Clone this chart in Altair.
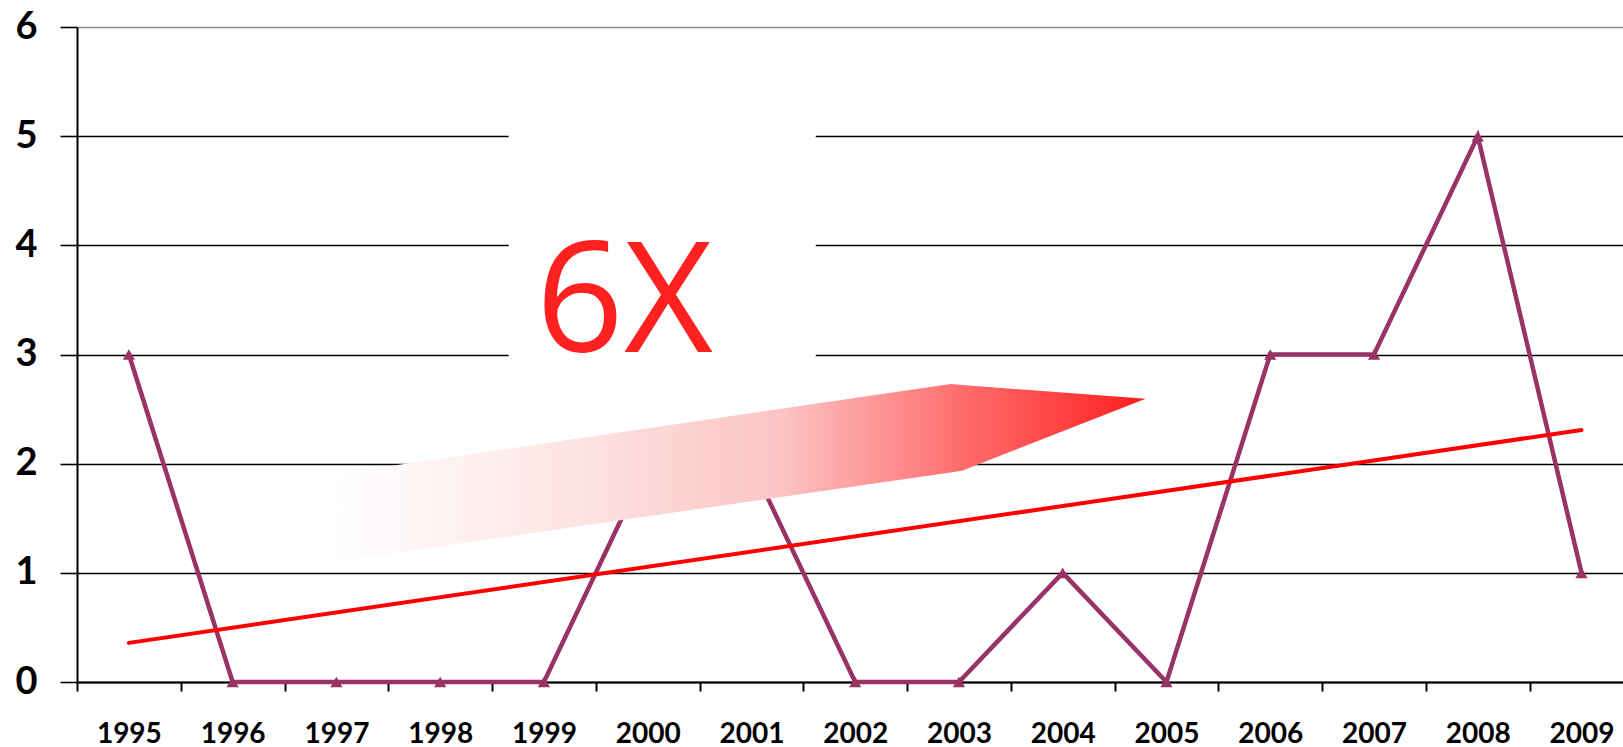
import altair as alt
import pandas as pd

# ---- data ----
years = [1995, 1996, 1997, 1998, 1999, 2000, 2001, 2002, 2003, 2004, 2005, 2006, 2007, 2008, 2009]
counts = [3, 0, 0, 0, 0, 2, 2, 0, 0, 1, 0, 3, 3, 5, 1]

# annotation: gradient arrow outline (x in year-index units, y in value units)
arrow_x = [1.96, 7.92, 8.03, 9.80]
arrow_top = [1.90, 2.73, 2.72, 2.595]
arrow_bottom = [1.10, 1.92, 1.935, 2.595]

# annotation: white box behind the "6X" label
box_x = [3.66, 6.62]
box_y = [2.75, 5.45]

# annotation text
note_text = ["6X"]
note_x = [4.775]
note_y = [3.02]

y_ticks = [0, 1, 2, 3, 4, 5, 6]

# ---- frames ----
df = pd.DataFrame({"year": years, "count": counts})
arrow_df = pd.DataFrame({"ax": arrow_x, "top": arrow_top, "bottom": arrow_bottom})
box_df = pd.DataFrame({"bx": [box_x[0]], "bx2": [box_x[1]], "by": [box_y[0]], "by2": [box_y[1]]})
note_df = pd.DataFrame({"nx": note_x, "ny": note_y, "t": note_text})

n = len(years)
x_values = sorted([k - 0.5 for k in range(n)] + list(range(n)))
x_scale = alt.Scale(domain=[-0.5, n - 0.6], nice=False, zero=False)
y_scale = alt.Scale(domain=[0, 6], nice=False)

x_axis = alt.Axis(
    values=x_values,
    labelExpr=f"datum.value % 1 === 0 ? '' + ({years[0]} + datum.value) : ''",
    grid=False,
    domainColor="black", domainWidth=2,
    tickColor="black", tickWidth=2, tickSize=9,
    tickOpacity={"condition": {"test": "datum.value % 1 !== 0", "value": 1}, "value": 0},
    labelFont="Lato", labelFontWeight="bold", labelFontSize=28, labelColor="black",
    labelPadding=29, labelOverlap=False, labelFlush=False, title=None,
)
y_axis = alt.Axis(
    values=y_ticks, grid=True,
    gridColor={"condition": {"test": "datum.value === 6", "value": "#8c8c8c"}, "value": "black"},
    gridWidth=1.6,
    domainColor="black", domainWidth=2,
    tickColor="black", tickWidth=1.6, tickSize=17,
    labelFont="Lato", labelFontWeight="bold", labelFontSize=38, labelColor="black",
    labelPadding=23, title=None,
)

def X(field):
    return alt.X(field, type="quantitative", scale=x_scale, axis=x_axis)

def Y(field):
    return alt.Y(field, type="quantitative", scale=y_scale, axis=y_axis)

base = alt.Chart(df).transform_calculate(idx=f"datum.year - {years[0]}")

box = alt.Chart(box_df).mark_rect(color="white").encode(
    x=X("bx"), x2="bx2", y=Y("by"), y2="by2"
)

note = alt.Chart(note_df).mark_text(
    font="Open Sans", fontSize=154, color="#ff2020", align="center", baseline="alphabetic"
).encode(x=X("nx"), y=Y("ny"), text="t:N")

line = base.mark_line(color="#993366", strokeWidth=4.5).encode(x=X("idx"), y=Y("count"))
pts = base.mark_point(shape="triangle-up", filled=True, color="#993366", size=150, opacity=1).encode(
    x=X("idx"), y=Y("count")
)

trend = base.transform_regression("idx", "count", method="linear").mark_line(
    color="#ff0000", strokeWidth=4, strokeCap="round"
).encode(x=X("idx"), y=Y("count"))

grad = alt.LinearGradient(
    gradient="linear",
    stops=[
        alt.GradientStop(color="#ffffff", offset=0),
        alt.GradientStop(color="#fde3e3", offset=0.3),
        alt.GradientStop(color="#fcc4c4", offset=0.55),
        alt.GradientStop(color="#ff6a6a", offset=0.78),
        alt.GradientStop(color="#ff1e1e", offset=1),
    ],
    x1=0, x2=1, y1=0, y2=0,
)
arrow = alt.Chart(arrow_df).mark_area(color=grad, interpolate="linear").encode(
    x=X("ax"), y=Y("top"), y2="bottom"
)

chart = alt.layer(box, note, line, pts, trend, arrow).properties(
    width=1546,
    height=655,
    autosize=alt.AutoSizeParams(type="none"),
    padding={"left": 77, "top": 27, "right": 0, "bottom": 65},
    background="white",
).configure_view(strokeWidth=0)

chart.save("out.html", embed_options={"renderer": "svg", "actions": False})
